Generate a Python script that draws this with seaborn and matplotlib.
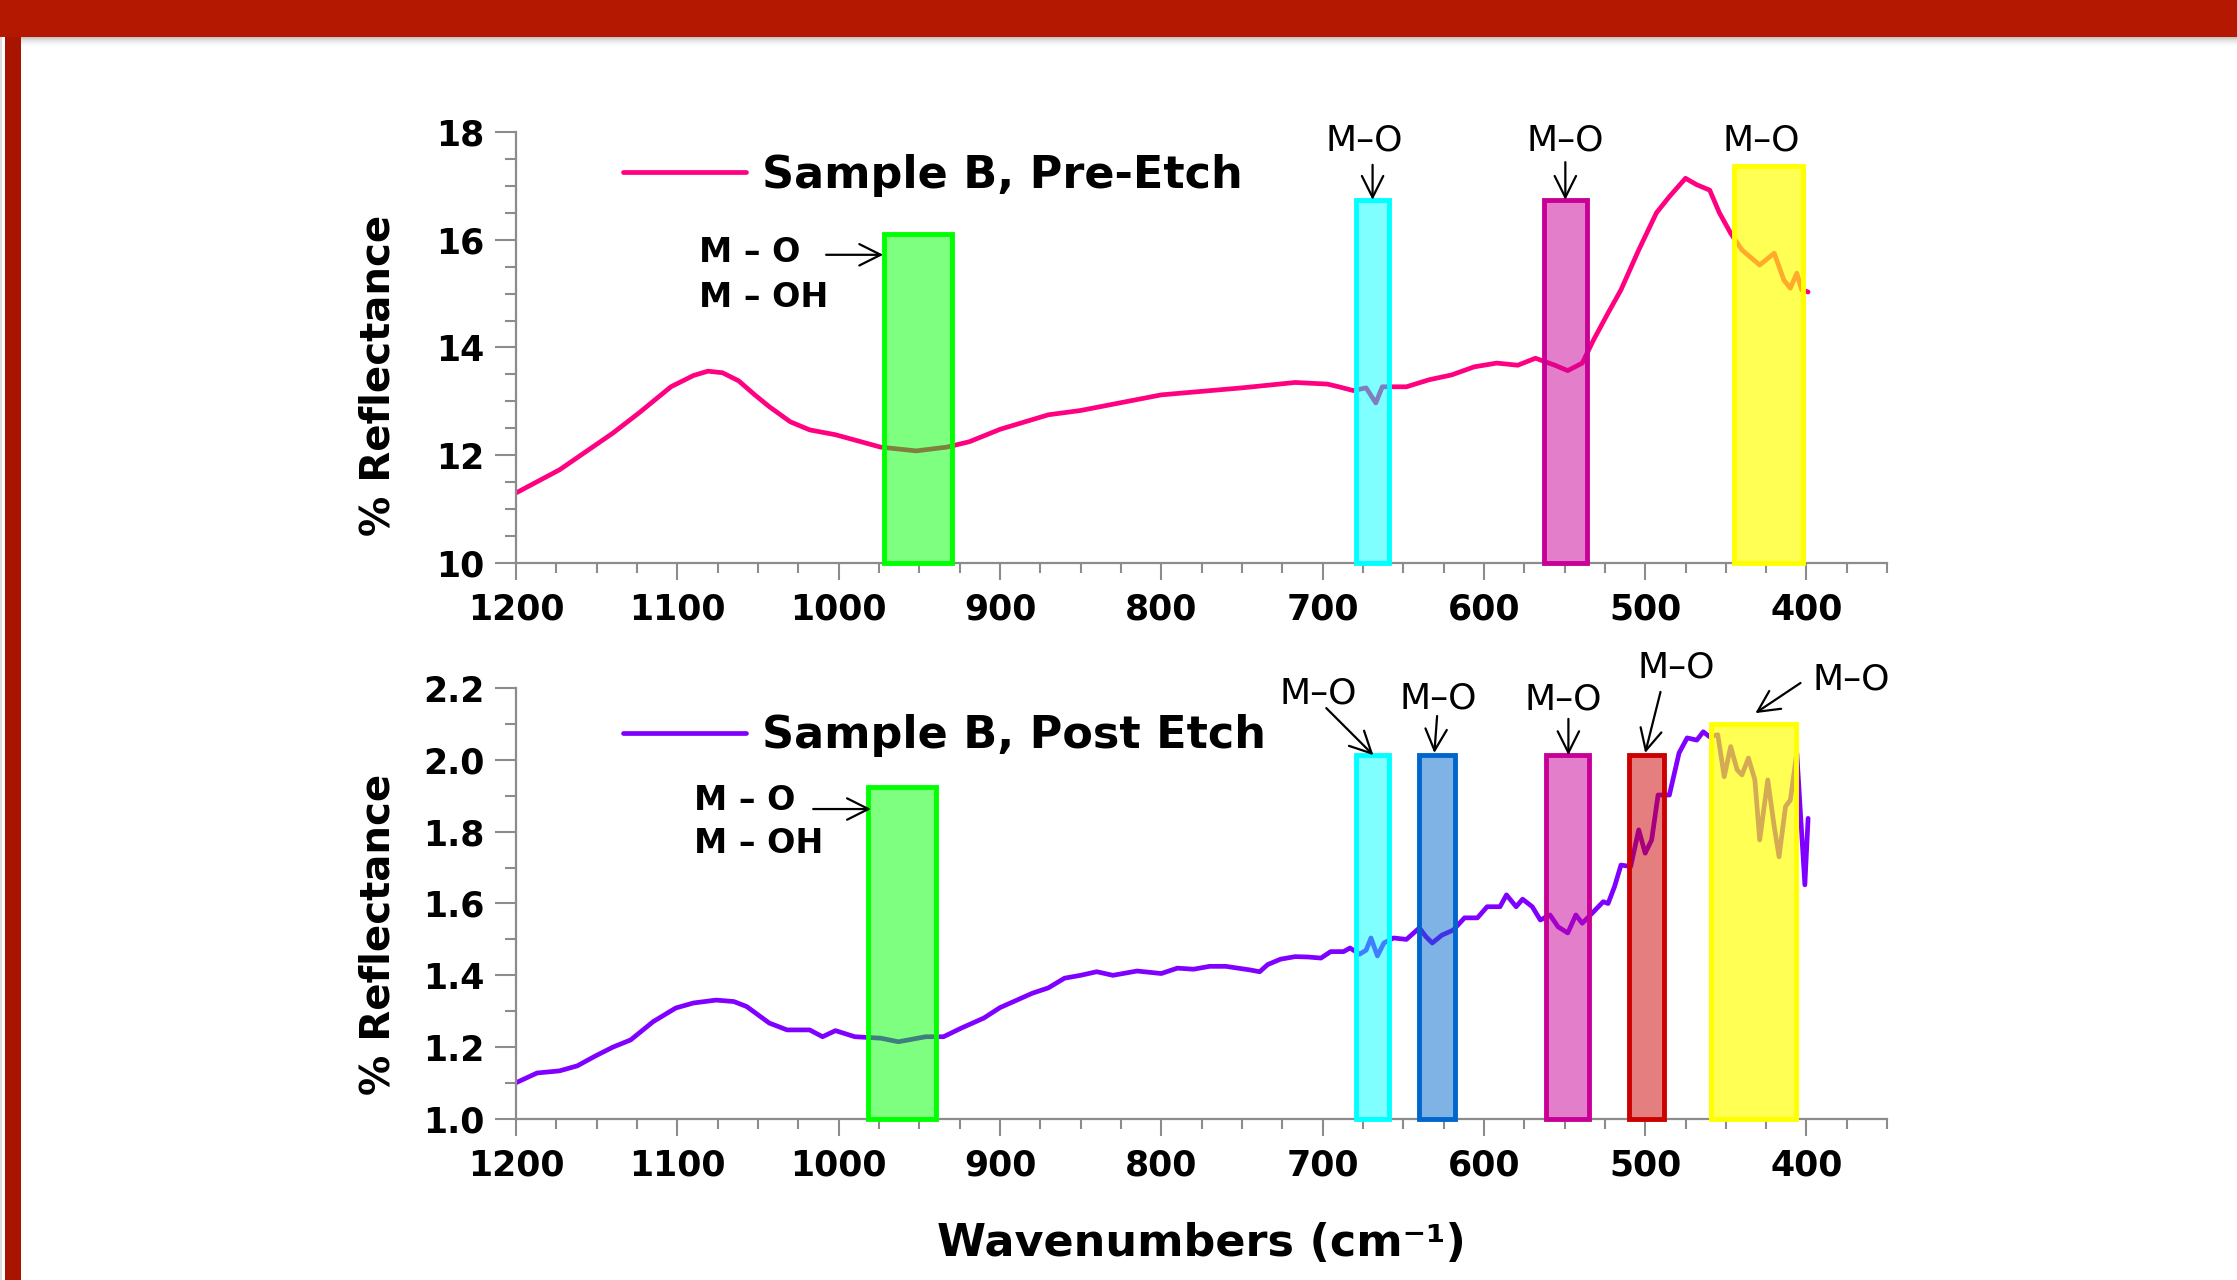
import pandas as pd
import seaborn as sns
import matplotlib.pyplot as plt
from matplotlib.patches import Rectangle
from matplotlib.colors import to_rgba
from matplotlib.ticker import MultipleLocator, FormatStrFormatter

# spectra (wavenumber, % reflectance)
pre_wn = [1200, 1173, 1140, 1124, 1104, 1090, 1081, 1072, 1062, 1052, 1043, 1030, 1018, 1002,
          974, 952, 933, 919, 900, 870, 850, 800, 750, 717, 697, 690, 681, 673,
          667, 663, 648, 634, 620, 606, 592, 579, 568, 556, 548, 539, 532, 523,
          515, 504, 493, 485, 475, 468, 460, 454, 447, 440, 429, 420, 414, 410,
          406, 403, 399]
pre_refl = [11.30, 11.73, 12.41, 12.78, 13.27, 13.48, 13.56, 13.53, 13.38, 13.12, 12.90, 12.62, 12.47, 12.38,
            12.15, 12.08, 12.15, 12.25, 12.48, 12.75, 12.83, 13.12, 13.25, 13.35, 13.32, 13.27, 13.20, 13.25,
            12.97, 13.27, 13.27, 13.40, 13.49, 13.64, 13.71, 13.67, 13.80, 13.67, 13.57, 13.71, 14.14, 14.64,
            15.07, 15.81, 16.50, 16.80, 17.14, 17.02, 16.92, 16.50, 16.12, 15.81, 15.53, 15.75, 15.25, 15.10,
            15.38, 15.07, 15.03]

post_wn = [1200, 1187, 1173, 1162, 1151, 1140, 1129, 1115, 1101, 1090, 1076, 1065, 1057,
           1043, 1032, 1018, 1010, 1002, 990, 974, 963, 946, 935, 924, 910, 900, 880,
           870, 860, 850, 840, 830, 815, 800, 790, 780, 770, 760, 745, 739, 734, 726,
           717, 709, 701, 695, 687, 683, 677, 673, 670, 666, 662, 656, 648, 640, 636,
           632, 626, 619, 612, 604, 598, 590, 586, 580, 576, 570, 565, 559, 554, 548,
           543, 539, 532, 526, 523, 519, 515, 509, 504, 500, 496, 492, 485, 479, 474,
           468, 464, 460, 455, 451, 447, 443, 440, 436, 432, 429, 424, 420, 417, 413,
           410, 406, 404, 401, 399]
post_refl = [1.101, 1.128, 1.134, 1.148, 1.175, 1.200, 1.220, 1.271, 1.309, 1.323, 1.331, 1.327, 1.313,
             1.267, 1.248, 1.248, 1.229, 1.246, 1.229, 1.225, 1.215, 1.229, 1.229, 1.253, 1.281, 1.310, 1.350,
             1.365, 1.392, 1.400, 1.410, 1.400, 1.412, 1.405, 1.420, 1.417, 1.425, 1.425, 1.415, 1.410, 1.430, 1.445,
             1.452, 1.451, 1.448, 1.466, 1.466, 1.476, 1.459, 1.470, 1.504, 1.454, 1.490, 1.504, 1.500, 1.532, 1.508,
             1.490, 1.512, 1.526, 1.560, 1.560, 1.591, 1.591, 1.624, 1.591, 1.612, 1.591, 1.554, 1.568, 1.535, 1.518,
             1.568, 1.545, 1.577, 1.605, 1.600, 1.647, 1.707, 1.703, 1.805, 1.740, 1.777, 1.902, 1.902, 2.019, 2.061,
             2.055, 2.078, 2.064, 2.070, 1.953, 2.037, 1.972, 1.958, 2.005, 1.944, 1.777, 1.944, 1.814, 1.730, 1.870,
             1.888, 2.019, 1.870, 1.652, 1.837]

# highlighted absorption bands (upper wn, lower wn, box top)
pre_band_hi = [972, 679, 563, 445]
pre_band_lo = [930, 659, 536, 402]
pre_band_top = [16.1, 16.74, 16.74, 17.37]

post_band_hi = [982, 679, 640, 561.5, 510, 459]
post_band_lo = [939.5, 659, 618, 535, 488.4, 406.5]
post_band_top = [1.924, 2.013, 2.013, 2.013, 2.013, 2.10]

pre_df = pd.DataFrame({"wn": pre_wn, "refl": pre_refl})
post_df = pd.DataFrame({"wn": post_wn, "refl": post_refl})

GREEN, CYAN, BLUE, MAG, RED, YEL = "#00FF00", "#00FFFF", "#0066CC", "#C80096", "#CC0000", "#FFFF00"
pre_cols = [GREEN, CYAN, MAG, YEL]
post_cols = [GREEN, CYAN, BLUE, MAG, RED, YEL]

sns.set_style("ticks")
plt.rcParams["font.family"] = ["DejaVu Sans"]
plt.rcParams["font.weight"] = "bold"
plt.rcParams["axes.labelweight"] = "bold"
plt.rcParams["text.color"] = "black"
plt.rcParams["axes.labelcolor"] = "black"

fig = plt.figure(figsize=(22.37, 12.8), dpi=100)
fig.patch.set_facecolor("white")

# slide decoration: red title bar and left border
H, W = 1280, 2237
fig.add_artist(Rectangle((0, 1 - 37 / H), 1, 37 / H, transform=fig.transFigure,
                         facecolor="#B41800", edgecolor="none", zorder=10))
for i in range(10):
    fig.add_artist(Rectangle((21 / W, 1 - (38 + i) / H), 1, 1 / H, transform=fig.transFigure,
                             facecolor="#808080", alpha=0.45 * (1 - i / 10) ** 2,
                             edgecolor="none", zorder=9))
fig.add_artist(Rectangle((5 / W, 0), 16 / W, 1, transform=fig.transFigure,
                         facecolor="#A81400", edgecolor="none", zorder=9))
fig.add_artist(Rectangle((0, 0), 2 / W, 1, transform=fig.transFigure,
                         facecolor="#DDDDDD", edgecolor="none", zorder=9))

ax1 = fig.add_axes([0.2307, 0.5602, 0.6129, 0.3367])
ax2 = fig.add_axes([0.2307, 0.1258, 0.6129, 0.3367])

AXCOL = "#8c8c8c"


def panel(ax, df, color, label, ylim, ymaj, ymin, fmt, his, los, tops, cols, yalpha):
    sns.lineplot(data=df, x="wn", y="refl", ax=ax, color=color, lw=3.4, label=label,
                 sort=False, estimator=None, zorder=2)
    for hi, lo, top, col in zip(his, los, tops, cols):
        a = yalpha if col == YEL else 0.5
        ax.add_patch(Rectangle((lo, ylim[0]), hi - lo, top - ylim[0],
                               facecolor=to_rgba(col, a), edgecolor=col, lw=3.5,
                               zorder=3, clip_on=False))
    ax.set_xlim(1200, 350)
    ax.set_ylim(*ylim)
    ax.xaxis.set_major_locator(MultipleLocator(100))
    ax.xaxis.set_minor_locator(MultipleLocator(25))
    ax.yaxis.set_major_locator(MultipleLocator(ymaj))
    ax.yaxis.set_minor_locator(MultipleLocator(ymin))
    ax.yaxis.set_major_formatter(FormatStrFormatter(fmt))
    for s in ["top", "right"]:
        ax.spines[s].set_visible(False)
    for s in ["left", "bottom"]:
        ax.spines[s].set_color(AXCOL)
        ax.spines[s].set_linewidth(1.6)
    ax.tick_params(axis="x", which="major", length=12, width=1.5, color=AXCOL, pad=9,
                   labelsize=25, labelcolor="black")
    ax.tick_params(axis="x", which="minor", length=7, width=1.5, color=AXCOL)
    ax.tick_params(axis="y", which="major", length=15, width=1.5, color=AXCOL, pad=8,
                   labelsize=25, labelcolor="black")
    ax.tick_params(axis="y", which="minor", length=8, width=1.5, color=AXCOL)
    ax.set_xlabel("")
    ax.set_ylabel("% Reflectance", fontsize=29, fontweight="bold")
    ax.yaxis.label.set_verticalalignment("center")
    ax.legend(loc="center left", frameon=False, prop=dict(size=32, weight="bold"),
              handlelength=2.77, handletextpad=0.36, borderpad=0, borderaxespad=0)


panel(ax1, pre_df, "#FF0080", "Sample B, Pre-Etch", (10, 18), 2, 0.5, "%d",
      pre_band_hi, pre_band_lo, pre_band_top, pre_cols, 0.67)
panel(ax2, post_df, "#8000FF", "Sample B, Post Etch", (1.0, 2.2), 0.2, 0.1, "%.1f",
      post_band_hi, post_band_lo, post_band_top, post_cols, 0.67)

ax1.get_legend().set_bbox_to_anchor((0.078, 0.90), transform=ax1.transAxes)
ax2.get_legend().set_bbox_to_anchor((0.078, 0.889), transform=ax2.transAxes)
ax1.yaxis.set_label_coords(-0.1, 0.436)
ax2.yaxis.set_label_coords(-0.1, 0.429)

ax2.set_xlabel("Wavenumbers (cm⁻¹)", fontsize=32, fontweight="bold")
ax2.xaxis.set_label_coords(0.5, -0.238)

arrow = dict(arrowstyle="->,head_length=0.7,head_width=0.35", lw=1.6, color="black",
             shrinkA=0, shrinkB=0, mutation_scale=22)

# M-O / M-OH labels on the broad band
for ax, x, y1, y2, a0, a1, ya in [(ax1, 1086.5, 15.77, 14.92, 1007.8, 972.4, 15.72),
                                  (ax2, 1089.6, 1.888, 1.766, 1015.8, 980, 1.863)]:
    ax.text(x, y1, "M – O", fontsize=24, fontweight="bold", ha="left", va="center")
    ax.text(x, y2, "M – OH", fontsize=24, fontweight="bold", ha="left", va="center")
    ax.annotate("", xy=(a1, ya), xytext=(a0, ya), arrowprops=arrow)

# M-O labels with arrows
pre_notes = [(674, 17.85, 669, 17.39, 669, 16.74),
             (549.5, 17.85, 549.5, 17.44, 549.5, 16.74),
             (428, 17.85, None, None, None, None)]
post_notes = [(702.6, 2.186, 697.7, 2.144, 668.5, 2.013),
              (628.5, 2.170, 629, 2.122, 630.7, 2.019),
              (551, 2.167, 547.6, 2.114, 547.6, 2.013),
              (481, 2.256, 490.5, 2.189, 500, 2.019),
              (372, 2.225, 403.7, 2.214, 431.7, 2.13)]
for ax, notes in [(ax1, pre_notes), (ax2, post_notes)]:
    for tx, ty, x0, y0, x1, y1 in notes:
        ax.text(tx, ty, "M–O", fontsize=26, fontweight="normal", ha="center", va="center",
                clip_on=False)
        if x0 is not None:
            ax.annotate("", xy=(x1, y1), xytext=(x0, y0), arrowprops=arrow,
                        annotation_clip=False)

fig.savefig("out.png", dpi=100)
